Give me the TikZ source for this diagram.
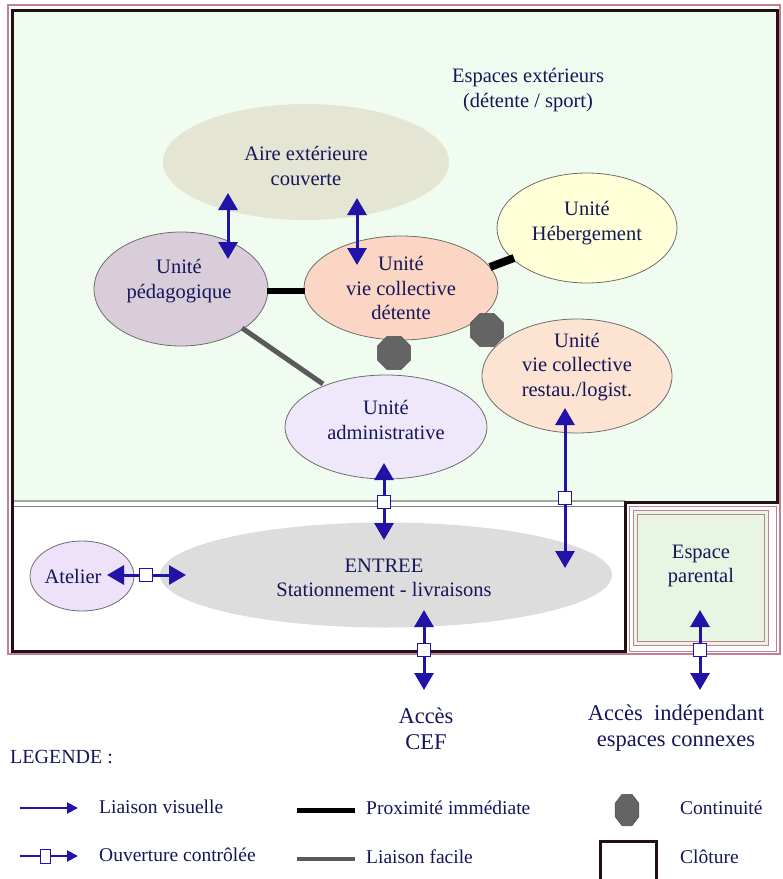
\documentclass[tikz,border=0pt]{standalone}
\usepackage{fontspec}
\setmainfont{Liberation Serif}
\usetikzlibrary{arrows.meta,shapes.geometric}
\definecolor{navy}{RGB}{22,22,90}
\definecolor{arrblue}{RGB}{33,18,168}
\definecolor{bggreen}{RGB}{241,252,240}
\definecolor{pargreen}{RGB}{232,245,226}
\definecolor{pinkline}{RGB}{196,128,146}
\definecolor{fence}{RGB}{34,16,18}
\definecolor{ellgray}{RGB}{110,110,110}
\definecolor{cAire}{RGB}{229,229,211}
\definecolor{cPeda}{RGB}{218,205,218}
\definecolor{cVie}{RGB}{252,214,196}
\definecolor{cHeb}{RGB}{255,255,216}
\definecolor{cRest}{RGB}{253,227,210}
\definecolor{cAdm}{RGB}{239,231,250}
\definecolor{cEnt}{RGB}{221,221,221}
\definecolor{cAtel}{RGB}{237,226,250}
\definecolor{octo}{RGB}{100,100,100}
\begin{document}
\begin{tikzpicture}[x=1pt,y=-1pt,
  font=\fontsize{20.5}{24.5}\selectfont,
  zone/.style={ellipse, draw=ellgray, line width=0.8pt, inner sep=0pt},
  txt/.style={text=navy, align=center, inner sep=0pt},
  legtxt/.style={text=navy, anchor=west, inner sep=0pt, font=\fontsize{19.5}{23}\selectfont},
  varrow/.style={draw=arrblue, line width=3pt, {Triangle[width=19pt,length=17pt]}-{Triangle[width=19pt,length=17pt]}},
  gate/.style={rectangle, draw=arrblue, fill=white, line width=1.2pt, minimum size=13pt, inner sep=0pt},
  prox/.style={draw=black, line width=6pt},
  easy/.style={draw=octo!90!black, line width=5pt},
  contin/.style={regular polygon, regular polygon sides=8, fill=octo, draw=octo!80!black, line width=0.6pt, minimum size=36pt, inner sep=0pt},
  fenceline/.style={draw=fence, line width=3pt}
]
\useasboundingbox (0,0) rectangle (783,879);
% enclosures
\fill[white] (0,0) rectangle (783,879);
\draw[pinkline, line width=1.3pt] (8,5) rectangle (780,654);
\fill[bggreen] (12,10) rectangle (777,502);
\draw[gray!70, line width=2pt] (12,501) -- (625,501);
\draw[gray, line width=1pt] (12,506) -- (625,506);
\draw[fenceline] (12,10) -- (777,10) -- (777,502) -- (625,502) -- (625,651) -- (12,651) -- cycle;
\draw[pinkline, line width=0.8pt] (629,506) rectangle (776,651);
\draw[pinkline, line width=1pt, fill=pargreen] (633,510) rectangle (768,645);
\draw[pinkline, line width=0.8pt] (637,514) rectangle (764,641);

% zones
\node[zone, draw=none, fill=cAire, minimum width=286pt, minimum height=116pt] (aire) at (306,162) {};
\node[zone, fill=cPeda, minimum width=174pt, minimum height=114pt] (peda) at (181,289) {};
\node[zone, fill=cVie, minimum width=194pt, minimum height=104pt] (vie) at (401,288) {};
\node[zone, fill=cHeb, minimum width=180pt, minimum height=110pt] (heb) at (587,228) {};
\node[zone, fill=cRest, minimum width=190pt, minimum height=114pt] (rest) at (577,376) {};
\node[zone, fill=cAdm, minimum width=202pt, minimum height=104pt] (adm) at (386,427) {};
\node[zone, draw=none, fill=cEnt, minimum width=452pt, minimum height=105pt] (ent) at (386,575) {};
\node[zone, fill=cAtel, minimum width=104pt, minimum height=70pt] (atel) at (82,576) {};

% texts
\node[txt] (t-ext) at (528,90) {Espaces extérieurs\\(détente / sport)};
\node[txt] (t-aire) at (306,166) {Aire extérieure\\couverte};
\node[txt] (t-peda) at (179,281) {Unité\\pédagogique};
\node[txt] (t-vie) at (401,288) {Unité\\vie collective\\détente};
\node[txt] (t-heb) at (587,223) {Unité\\Hébergement};
\node[txt] (t-rest) at (577,367) {Unité\\vie collective\\restau./logist.};
\node[txt] (t-adm) at (386,420) {Unité\\administrative};
\node[txt] (t-ent) at (384,578) {ENTREE\\Stationnement - livraisons};
\node[txt] (t-atel) at (73,576) {Atelier};
\node[txt] (t-par) at (701,566) {Espace\\parental};
\node[txt, font=\fontsize{22.5}{26}\selectfont] (t-cef) at (426,729) {Accès\\CEF};
\node[txt, font=\fontsize{22.5}{26}\selectfont] (t-ind) at (676,728) {Accès~~indépendant\\espaces connexes};

% proximity / easy links
\coordinate (p1a) at (267,291); \coordinate (p1b) at (305,291);
\draw[prox] (p1a) -- (p1b);
\coordinate (p2a) at (490,267); \coordinate (p2b) at (514,258);
\draw[prox, line width=8pt] (p2a) -- (p2b);
\coordinate (e1a) at (242,328); \coordinate (e1b) at (323,384);
\draw[easy] (e1a) -- (e1b);

% continuity
\node[contin] (c1) at (394,353) {};
\node[contin] (c2) at (487,330) {};

% arrows
\coordinate (a1t) at (228,193); \coordinate (a1b) at (228,259);
\draw[varrow] (a1t) -- (a1b);
\coordinate (a2t) at (357,198); \coordinate (a2b) at (357,265);
\draw[varrow] (a2t) -- (a2b);
\coordinate (a3t) at (384,463); \coordinate (a3b) at (384,540);
\draw[varrow] (a3t) -- (a3b);
\node[gate] (g3) at (384,502) {};
\coordinate (a4t) at (565,408); \coordinate (a4b) at (565,568);
\draw[varrow] (a4t) -- (a4b);
\node[gate] (g4) at (565,498) {};
\coordinate (a5l) at (107,575); \coordinate (a5r) at (186,575);
\draw[varrow] (a5l) -- (a5r);
\node[gate] (g5) at (146,575) {};
\coordinate (a6t) at (424,610); \coordinate (a6b) at (424,690);
\draw[varrow] (a6t) -- (a6b);
\node[gate] (g6) at (424,650) {};
\coordinate (a7t) at (700,610); \coordinate (a7b) at (700,690);
\draw[varrow] (a7t) -- (a7b);
\node[gate] (g7) at (700,650) {};

% legend
\node[legtxt, font=\fontsize{20}{24}\selectfont] (leg) at (10,757) {LEGENDE :};
\coordinate (l1a) at (20,808); \coordinate (l1b) at (78,808);
\draw[draw=arrblue, line width=2pt, -{Triangle[width=11pt,length=11pt]}] (l1a) -- (l1b);
\node[legtxt] (lt1) at (99,807) {Liaison visuelle};
\coordinate (l2a) at (20,856); \coordinate (l2b) at (78,856);
\draw[draw=arrblue, line width=2pt, -{Triangle[width=11pt,length=11pt]}] (l2a) -- (l2b);
\node[gate, line width=1pt, minimum width=10pt, minimum height=14pt] (lg) at (45,856) {};
\node[legtxt] (lt2) at (99,855) {Ouverture contrôlée};
\coordinate (l3a) at (297,810); \coordinate (l3b) at (355,810);
\draw[prox, line width=5pt] (l3a) -- (l3b);
\node[legtxt] (lt3) at (366,808) {Proximité immédiate};
\coordinate (l4a) at (297,859); \coordinate (l4b) at (355,859);
\draw[easy, line width=4pt] (l4a) -- (l4b);
\node[legtxt] (lt4) at (366,857) {Liaison facile};
\node[contin, minimum size=34pt, xscale=0.76, transform shape] (lc) at (627,810) {};
\node[legtxt] (lt5) at (680,808) {Continuité};
\draw[fenceline] (600,841) rectangle (656,880);
\node[legtxt] (lt6) at (680,857) {Clôture};
\end{tikzpicture}
\end{document}
